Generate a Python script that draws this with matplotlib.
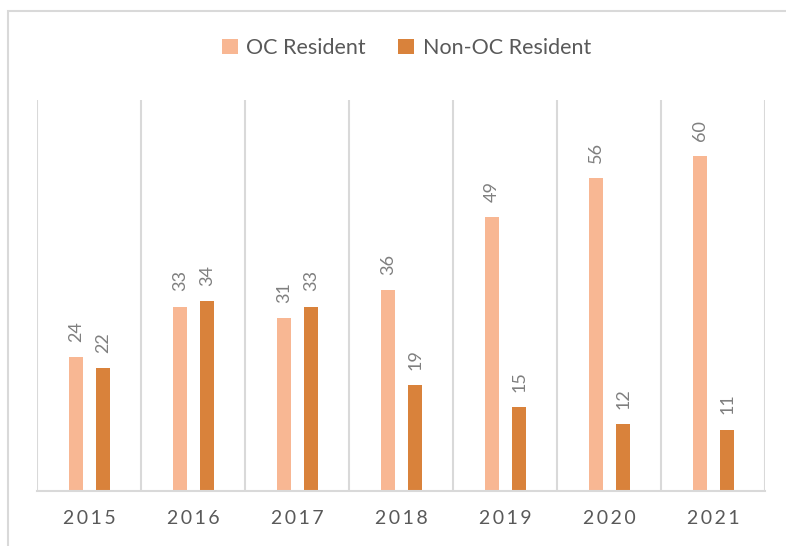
import matplotlib.pyplot as plt
from matplotlib.patches import Rectangle
import numpy as np

years = ['2015', '2016', '2017', '2018', '2019', '2020', '2021']
oc_resident = [24, 33, 31, 36, 49, 56, 60]
non_oc_resident = [22, 34, 33, 19, 15, 12, 11]

plt.rcParams['font.family'] = ['Lato', 'DejaVu Sans']

oc_color = '#F8B793'
non_oc_color = '#D9823B'
grid_color = '#D9D9D9'
text_color = '#595959'
label_color = '#7F7F7F'

fig = plt.figure(figsize=(7.86, 5.46), dpi=100)
ax = fig.add_axes([37/786, 55/546, 728/786, 391/546])

x = np.arange(len(years))
w = 0.135
b1 = ax.bar(x - 0.125, oc_resident, w, color=oc_color, label='OC Resident')
b2 = ax.bar(x + 0.135, non_oc_resident, w, color=non_oc_color, label='Non-OC Resident')

for bars in (b1, b2):
    for rect in bars:
        h = rect.get_height()
        ax.annotate(str(int(h)), (rect.get_x() + rect.get_width()/2, h),
                    xytext=(0, 11), textcoords='offset points',
                    ha='center', va='bottom', rotation=90,
                    fontsize=13, color=label_color)

for k in range(len(years) + 1):
    ax.axvline(k - 0.5, color=grid_color, lw=1.5, zorder=0)

ax.set_xlim(-0.5, len(years) - 0.5)
ax.set_ylim(0, 70)
ax.set_yticks([])
ax.set_xticks(x)
ax.set_xticklabels(['\u2009'.join(y) for y in years], fontsize=14, color=text_color)
ax.tick_params(axis='x', length=0, pad=14)
for s in ['top', 'right', 'left']:
    ax.spines[s].set_visible(False)
ax.spines['bottom'].set_color(grid_color)
ax.spines['bottom'].set_linewidth(1.5)

fig.legend(handles=[b1, b2], loc='center', bbox_to_anchor=(0.517, 0.912),
           ncol=2, frameon=False, fontsize=15.5, labelcolor=text_color,
           handlelength=0.75, handleheight=0.75, handletextpad=0.4, columnspacing=1.5)

# outer chart border (clipped on the right and bottom like the original)
fig.patches.append(Rectangle((8/786, -0.1), 1.2, 1.1 - 11/546, transform=fig.transFigure,
                             fill=False, edgecolor=grid_color, lw=1.5))

fig.savefig('out.png', dpi=100)
